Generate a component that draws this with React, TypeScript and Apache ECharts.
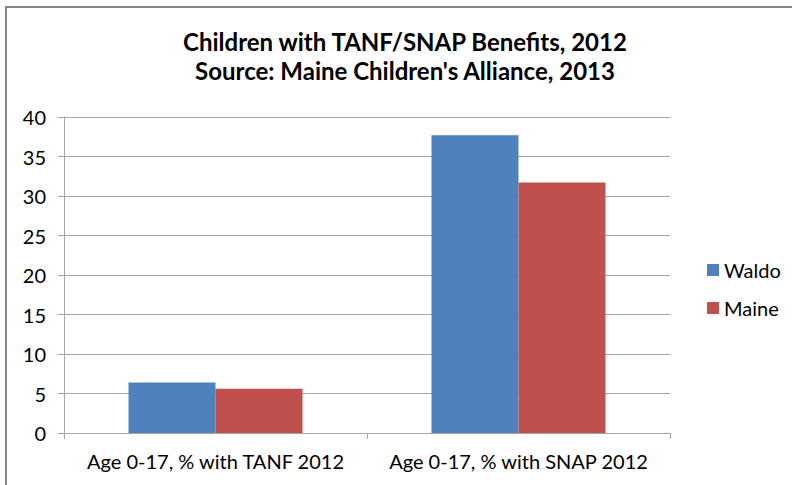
import React, { useEffect, useRef } from "react";
import * as echarts from "echarts";

const categories = ["Age 0-17, % with TANF 2012", "Age 0-17, % with SNAP 2012"];
const waldo = [6.4, 37.7];
const maine = [5.6, 31.7];
const titleLines = ["Children with TANF/SNAP Benefits, 2012", "Source: Maine Children's Alliance, 2013"];

const FONT = "Lato";

export default function App() {
  const ref = useRef<HTMLDivElement>(null);
  useEffect(() => {
    if (!ref.current) return;
    const chart = echarts.init(ref.current, null, { renderer: "svg" });
    chart.setOption({
      animation: false,
      backgroundColor: "#ffffff",
      title: {
        text: titleLines.join("\n"),
        left: 400,
        top: 22,
        textAlign: "center",
        textStyle: { fontFamily: FONT, fontWeight: "bold", fontSize: 24, color: "#000", lineHeight: 29 },
      },
      graphic: [
        {
          type: "rect",
          shape: { x: 6, y: 7, width: 820, height: 520 },
          style: { fill: "none", stroke: "#868686", lineWidth: 2 },
          silent: true,
        },
      ],
      legend: {
        orient: "vertical",
        left: 702,
        top: 255,
        itemWidth: 12,
        itemHeight: 12,
        itemGap: 18,
        icon: "rect",
        textStyle: { fontFamily: FONT, fontSize: 20, color: "#000" },
        data: ["Waldo", "Maine"],
      },
      grid: { left: 64, top: 117, width: 606, height: 316, containLabel: false },
      xAxis: {
        type: "category",
        data: categories,
        axisLine: { lineStyle: { color: "#a6a6a6", width: 1 } },
        axisTick: { show: true, length: 6, lineStyle: { color: "#a6a6a6" } },
        axisLabel: { fontFamily: FONT, fontSize: 20, color: "#000", margin: 18, interval: 0 },
      },
      yAxis: {
        type: "value",
        min: 0,
        max: 40,
        interval: 5,
        axisLine: { show: true, lineStyle: { color: "#a6a6a6", width: 1 } },
        axisTick: { show: true, length: 6, lineStyle: { color: "#a6a6a6" } },
        splitLine: { lineStyle: { color: "#a6a6a6", width: 1 } },
        axisLabel: { fontFamily: FONT, fontSize: 20, color: "#000", margin: 18 },
      },
      series: [
        {
          name: "Waldo",
          type: "bar",
          data: waldo,
          itemStyle: { color: "#4F81BD" },
          barWidth: 87,
          barGap: "0%",
        },
        {
          name: "Maine",
          type: "bar",
          data: maine,
          itemStyle: { color: "#C0504D" },
          barWidth: 87,
          barGap: "0%",
        },
      ],
    });
    return () => chart.dispose();
  }, []);
  return (
    <div
      ref={ref}
      style={{ position: "fixed", left: 0, top: 0, width: 792, height: 485 }}
    />
  );
}
